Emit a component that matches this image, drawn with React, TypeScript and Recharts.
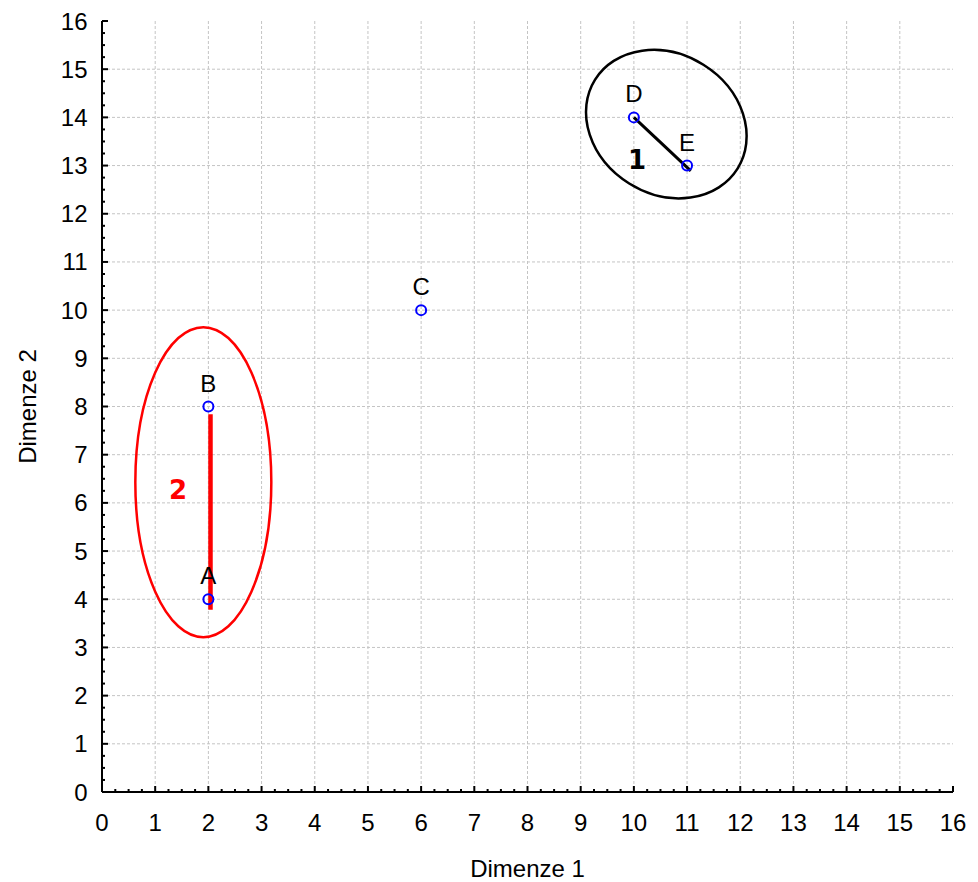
import React from 'react';
import {
    ScatterChart,
    Scatter,
    XAxis,
    YAxis,
    CartesianGrid,
    ReferenceLine,
    ReferenceDot,
} from 'recharts';

// objects shown on the map
const POINT_NAMES = ['A', 'B', 'C', 'D', 'E'];
const POINT_X = [2, 2, 6, 10, 11];
const POINT_Y = [4, 8, 10, 14, 13];

// axis ticks and grid
const AXIS_TICKS = [0, 1, 2, 3, 4, 5, 6, 7, 8, 9, 10, 11, 12, 13, 14, 15, 16];
const GRID_LINES = [1, 2, 3, 4, 5, 6, 7, 8, 9, 10, 11, 12, 13, 14, 15];

// cluster annotations (data units)
const CLUSTER_1_LINE = [{ x: 10, y: 14 }, { x: 11.07, y: 12.89 }];
const CLUSTER_2_LINE = [{ x: 2.04, y: 3.78 }, { x: 2.04, y: 7.84 }];

const FONT = '"Liberation Sans", Arial, sans-serif';

const points = POINT_NAMES.map((name, i) => ({ name, x: POINT_X[i], y: POINT_Y[i] }));

// major ticks plus three minor ticks between them
const allTicks = AXIS_TICKS.flatMap(t =>
    t < AXIS_TICKS[AXIS_TICKS.length - 1] ? [t, t + 0.25, t + 0.5, t + 0.75] : [t]
);

const XTick = (props: any) => {
    const { x, y, payload } = props;
    const major = Number.isInteger(payload.value);
    return (
        <g>
            <line x1={x} x2={x} y1={y} y2={y - (major ? 6 : 3)} stroke="#000" strokeWidth={2} />
            {major && (
                <text x={x} y={y + 38.5} textAnchor="middle" fontSize={24} fontFamily={FONT} fill="#000">
                    {payload.value}
                </text>
            )}
        </g>
    );
};

const YTick = (props: any) => {
    const { x, y, payload } = props;
    const major = Number.isInteger(payload.value);
    return (
        <g>
            <line x1={x} x2={x + (major ? 6 : 3)} y1={y} y2={y} stroke="#000" strokeWidth={2} />
            {major && (
                <text x={x - 14.5} y={y + 8.5} textAnchor="end" fontSize={24} fontFamily={FONT} fill="#000">
                    {payload.value}
                </text>
            )}
        </g>
    );
};

const PointShape = (props: any) => {
    const { cx, cy, payload } = props;
    return (
        <g>
            <circle cx={cx} cy={cy} r={5} fill="none" stroke="#0000ff" strokeWidth={2} />
            <text x={cx} y={cy - 15} textAnchor="middle" fontSize={24} fontFamily={FONT} fill="#000">
                {payload.name}
            </text>
        </g>
    );
};

const ellipseShape = (rx: number, ry: number, angle: number, color: string) => (props: any) => (
    <ellipse
        cx={props.cx}
        cy={props.cy}
        rx={rx}
        ry={ry}
        transform={`rotate(${angle} ${props.cx} ${props.cy})`}
        fill="none"
        stroke={color}
        strokeWidth={2.5}
    />
);

const numberShape = (text: string, color: string) => (props: any) => (
    <text
        x={props.cx}
        y={props.cy + 9.5}
        textAnchor="middle"
        fontSize={26}
        fontWeight="bold"
        fontFamily='"DejaVu Sans", sans-serif'
        fill={color}
    >
        {text}
    </text>
);

export default function App() {
    return (
        <div style={{ position: 'absolute', left: 0, top: 0, width: 978, height: 882, background: '#fff' }}>
            <ScatterChart width={978} height={882} margin={{ top: 21, right: 25, bottom: 2, left: 20 }}>
                <CartesianGrid
                    stroke="#c4c4c4"
                    strokeDasharray="3 2"
                    verticalValues={GRID_LINES}
                    horizontalValues={GRID_LINES}
                />
                <XAxis
                    type="number"
                    dataKey="x"
                    domain={[0, 16]}
                    ticks={allTicks}
                    interval={0}
                    tickSize={0}
                    tickMargin={0}
                    tickLine={false}
                    tick={XTick}
                    height={88}
                    axisLine={{ stroke: '#000', strokeWidth: 2 }}
                    label={{ value: 'Dimenze 1', position: 'insideBottom', offset: 3, fontSize: 24, fontFamily: FONT, fill: '#000' }}
                />
                <YAxis
                    type="number"
                    dataKey="y"
                    domain={[0, 16]}
                    ticks={allTicks}
                    interval={0}
                    tickSize={0}
                    tickMargin={0}
                    tickLine={false}
                    tick={YTick}
                    width={82}
                    axisLine={{ stroke: '#000', strokeWidth: 2 }}
                    label={{
                        value: 'Dimenze 2',
                        angle: -90,
                        position: 'insideLeft',
                        offset: 7,
                        fontSize: 24,
                        fontFamily: FONT,
                        fill: '#000',
                        style: { textAnchor: 'middle' },
                    }}
                />
                <ReferenceDot x={10.61} y={13.86} shape={ellipseShape(84, 70, 32, '#000')} />
                <ReferenceDot x={1.905} y={6.43} shape={ellipseShape(68, 155, 0, '#ff0000')} />
                <ReferenceDot x={10.06} y={13.13} shape={numberShape('1', '#000')} />
                <ReferenceDot x={1.43} y={6.28} shape={numberShape('2', '#ff0000')} />
                <Scatter data={points} shape={PointShape} isAnimationActive={false} />
                <ReferenceLine segment={CLUSTER_2_LINE} stroke="#ff0000" strokeWidth={4.5} ifOverflow="visible" />
                <ReferenceLine segment={CLUSTER_1_LINE} stroke="#000" strokeWidth={3} ifOverflow="visible" />
            </ScatterChart>
        </div>
    );
}
